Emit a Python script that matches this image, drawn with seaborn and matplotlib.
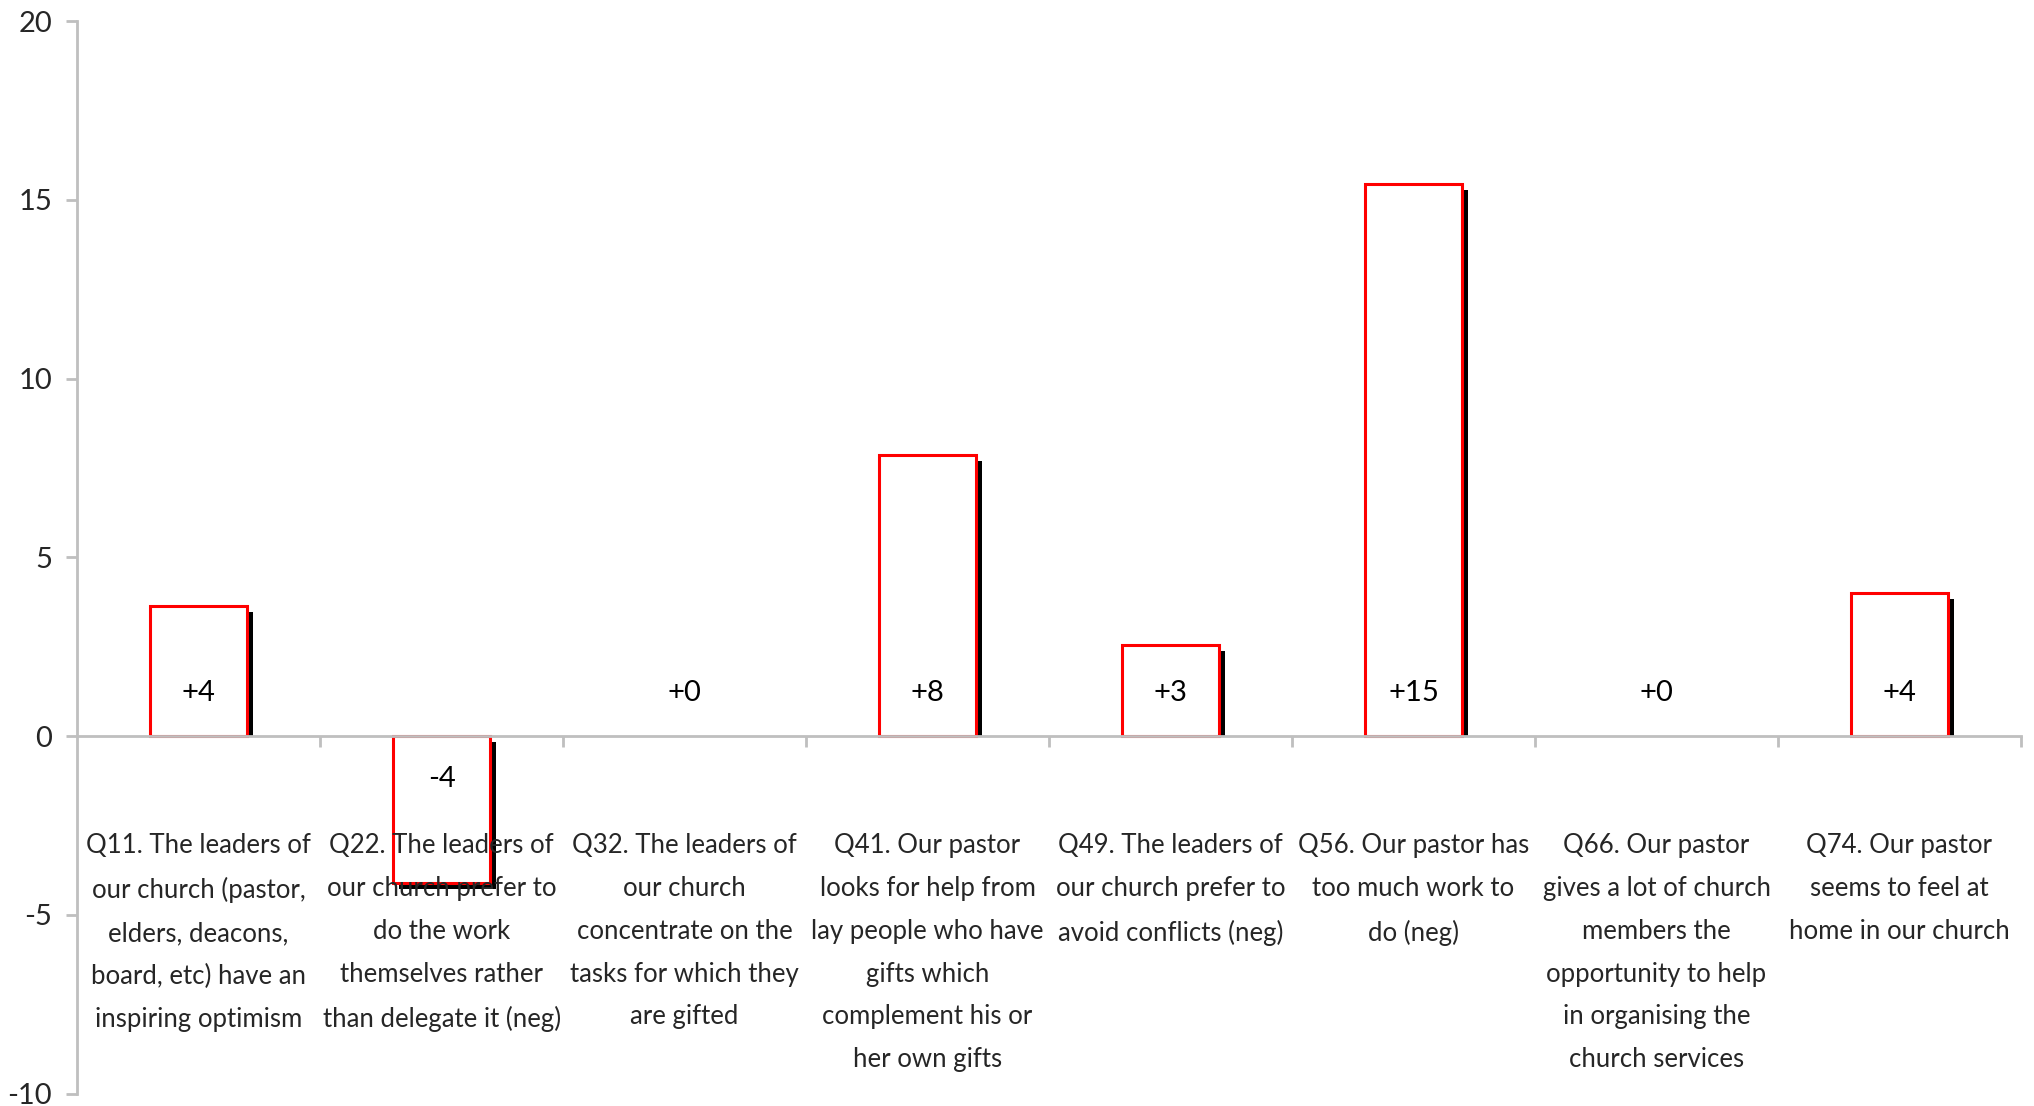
import matplotlib
matplotlib.use("Agg")
import matplotlib.pyplot as plt
import matplotlib.transforms as mtransforms
from matplotlib.patches import Rectangle
from matplotlib.ticker import FixedLocator, FuncFormatter
import pandas as pd
import seaborn as sns

# Survey items and the change in score for each
categories = [
    "Q11. The leaders of\nour church (pastor,\nelders, deacons,\nboard, etc) have an\ninspiring optimism",
    "Q22. The leaders of\nour church prefer to\ndo the work\nthemselves rather\nthan delegate it (neg)",
    "Q32. The leaders of\nour church\nconcentrate on the\ntasks for which they\nare gifted",
    "Q41. Our pastor\nlooks for help from\nlay people who have\ngifts which\ncomplement his or\nher own gifts",
    "Q49. The leaders of\nour church prefer to\navoid conflicts (neg)",
    "Q56. Our pastor has\ntoo much work to\ndo (neg)",
    "Q66. Our pastor\ngives a lot of church\nmembers the\nopportunity to help\nin organising the\nchurch services",
    "Q74. Our pastor\nseems to feel at\nhome in our church",
]
changes = [3.64, -4.11, 0.0, 7.86, 2.54, 15.43, 0.0, 3.99]
y_ticks = [-10, -5, 0, 5, 10, 15, 20]

df = pd.DataFrame({"item": categories, "change": changes})

sns.set_style("white")
plt.rcParams["font.family"] = ["Lato", "DejaVu Sans"]

GREY = "#BFBFBF"
RED = "#FF0000"
DPI = 100

fig = plt.figure(figsize=(20.34, 11.06), dpi=DPI)
ax = fig.add_axes([0.0379, 0.0113, 0.9557, 0.9697])

sns.barplot(data=df, x="item", y="change", ax=ax, width=0.4,
            color="white", edgecolor=RED, linewidth=2.2, saturation=1,
            errorbar=None, zorder=2)

# Drop-shadow behind each bar, shifted right and down a few pixels
shift = mtransforms.ScaledTranslation(6 / DPI, -6 / DPI, fig.dpi_scale_trans)
above_zero = Rectangle((-1, 0), 10, 40, transform=ax.transData)
for patch, val in zip(ax.patches, changes):
    if val == 0:
        patch.set_visible(False)
        continue
    shadow = Rectangle(patch.get_xy(), patch.get_width(), patch.get_height(),
                       facecolor="black", edgecolor="none",
                       transform=ax.transData + shift, zorder=1.5)
    ax.add_patch(shadow)
    if val > 0:
        shadow.set_clip_path(above_zero)

# Value labels just inside the base of each bar
for i, val in enumerate(changes):
    off = 31 if val >= 0 else -31
    ax.annotate(f"{val:+.0f}", xy=(i, 0), xytext=(0, off),
                textcoords="offset points", ha="center", va="center",
                fontsize=21, color="black", zorder=4)

ax.set_xlim(-0.5, len(categories) - 0.5)
ax.set_ylim(-10, 20)
ax.set_xlabel("")
ax.set_ylabel("")
ax.set_axisbelow(False)

# Axes styling
for side in ("top", "right"):
    ax.spines[side].set_visible(False)
ax.spines["left"].set_color(GREY)
ax.spines["left"].set_linewidth(2)
ax.spines["bottom"].set_color(GREY)
ax.spines["bottom"].set_linewidth(2)
ax.spines["bottom"].set_position(("data", 0))
ax.spines["bottom"].set_zorder(3)

ax.yaxis.set_major_locator(FixedLocator(y_ticks))
ax.yaxis.set_major_formatter(FuncFormatter(lambda v, _: f"{v:.0f}"))
ax.tick_params(axis="y", which="major", left=True, direction="out",
               length=8, width=2, color=GREY, labelsize=21, pad=10)

ax.xaxis.set_minor_locator(FixedLocator([i + 0.5 for i in range(len(categories))]))
ax.tick_params(axis="x", which="minor", bottom=True, direction="out",
               length=8, width=2, color=GREY)
ax.tick_params(axis="x", which="major", bottom=True, length=0,
               labelsize=18.5, pad=70)
for lbl in ax.get_xticklabels():
    lbl.set_linespacing(1.89)
    lbl.set_horizontalalignment("center")

fig.savefig("out.png", dpi=DPI, facecolor="white")
